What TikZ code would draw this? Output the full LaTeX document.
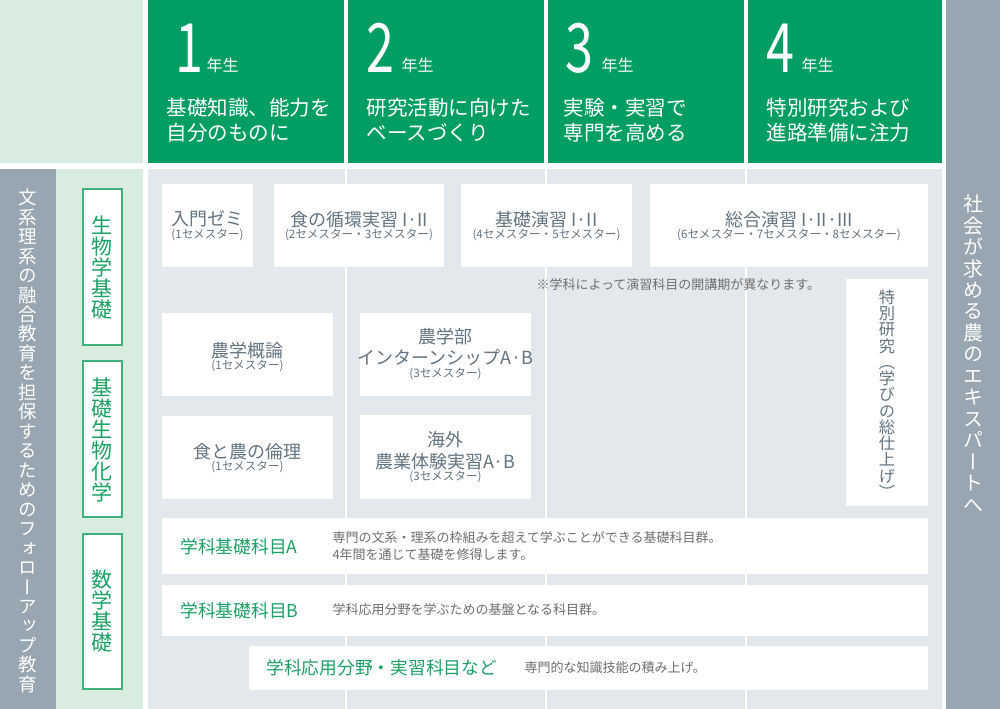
\documentclass[tikz,border=0pt]{standalone}
\usepackage{fontspec}
\usepackage{graphicx}
\setmainfont{Noto Sans CJK JP}
\newfontfamily\tatefont[RawFeature={+vert}]{Noto Sans CJK JP}

\definecolor{hdgreen}{RGB}{0,158,98}
\definecolor{palegreen}{RGB}{216,236,224}
\definecolor{slate}{RGB}{151,166,176}
\definecolor{mist}{RGB}{227,232,236}
\definecolor{boxtext}{RGB}{100,116,128}
\definecolor{leafgreen}{RGB}{28,160,100}
\definecolor{rimgreen}{RGB}{62,178,122}
\definecolor{notetext}{RGB}{110,110,110}

% stack characters top to bottom
\ExplSyntaxOn
\NewDocumentCommand \tate { m }
  {
    \vbox:n
      {
        \lineskiplimit = -\c_max_dim
        \tl_map_inline:nn {#1} { \hbox_to_wd:nn { 1em } { \hfil ##1 \hfil } }
      }
  }
\ExplSyntaxOff

\tikzset{every picture/.style={line width=0.75pt}}
\tikzset{
  digit/.style={text=white, font=\fontsize{51}{51}\selectfont, anchor=base west, inner sep=0},
  grade/.style={text=white, font=\fontsize{12}{12}\selectfont, anchor=west, inner sep=0},
  goal/.style={text=white, font=\fontsize{15.4}{19.1}\selectfont, anchor=west, align=left, inner sep=0},
  cname/.style={text=boxtext, font=\fontsize{13.5}{15.75}\selectfont, inner sep=0},
  csem/.style={text=boxtext, font=\fontsize{8.7}{10}\selectfont, inner sep=0},
  rowlabel/.style={text=leafgreen, font=\fontsize{13.3}{16}\selectfont, anchor=west, inner sep=0},
  desc/.style={text=notetext, font=\fontsize{9.75}{12.45}\selectfont, anchor=west, align=left, inner sep=0},
}

\begin{document}
\begin{tikzpicture}[x=0.75pt,y=0.75pt,yscale=-1,xscale=1]
        \useasboundingbox (0,0) rectangle (1000,709);
        \fill[white] (0,0) rectangle (1000,709);

        %Shape: Rectangle top left corner
        \fill[palegreen] (0,0) rectangle (143,163);
        %Shape: Rectangle headers
        \fill[hdgreen] (148,0) rectangle (344,163);
        \fill[hdgreen] (348,0) rectangle (544,163);
        \fill[hdgreen] (548,0) rectangle (744,163);
        \fill[hdgreen] (748,0) rectangle (942,163);
        %Shape: Rectangle right column
        \fill[slate] (946,0) rectangle (1000,709);
        %Shape: Rectangle left strips
        \fill[slate] (0,169) rectangle (56,709);
        \fill[palegreen] (56,169) rectangle (143,709);
        %Shape: Rectangle main area
        \fill[mist] (148,169) rectangle (942,709);
        \foreach \x in {346,546,746}
            \draw[white, line width=1.5pt] (\x,169) -- (\x,709);

        %Shape: Rectangle courses
        \fill[white] (162,184) rectangle (253,267);
        \fill[white] (274,184) rectangle (444,267);
        \fill[white] (461,184) rectangle (632,267);
        \fill[white] (650,184) rectangle (928,267);
        \fill[white] (162,313) rectangle (333,396);
        \fill[white] (162,416) rectangle (333,499);
        \fill[white] (360,313) rectangle (531,396);
        \fill[white] (360,415) rectangle (531,499);
        \fill[white] (846,279) rectangle (928,506);
        %Shape: Rectangle rows
        \fill[white] (162,518) rectangle (928,574);
        \fill[white] (162,585) rectangle (928,636);
        \fill[white] (249,646) rectangle (928,690);

        %Shape: Rectangle subject frames
        \draw[rimgreen, fill=white, line width=1.5pt] (82.7,189) rectangle (121.7,345);
        \draw[rimgreen, fill=white, line width=1.5pt] (82.7,361) rectangle (121.7,517);
        \draw[rimgreen, fill=white, line width=1.5pt] (82.7,534) rectangle (121.7,689);

        % Text Node headers
        \node[digit] (yrone) at (175,73) {\scalebox{0.74}[1]{1}};
        \node[grade] (grone) at (206,65.5) {年生};
        \node[goal] (goalone) at (166,120) {基礎知識、能力を\\自分のものに};
        \node[digit] (yrtwo) at (366,73) {\scalebox{0.74}[1]{2}};
        \node[grade] (grtwo) at (401,65.5) {年生};
        \node[goal] (goaltwo) at (366,120) {研究活動に向けた\\ベースづくり};
        \node[digit] (yrthree) at (565,73) {\scalebox{0.74}[1]{3}};
        \node[grade] (grthree) at (601,65.5) {年生};
        \node[goal] (goalthree) at (563,120) {実験・実習で\\専門を高める};
        \node[digit] (yrfour) at (766,73) {\scalebox{0.74}[1]{4}};
        \node[grade] (grfour) at (801,65.5) {年生};
        \node[goal] (goalfour) at (766,120) {特別研究および\\進路準備に注力};

        % Text Node vertical labels
        \node[text=white, inner sep=0, font=\tatefont\fontsize{13.9}{14.6}\selectfont] (followup) at (28,441)
            {\tate{文系理系の融合教育を担保するためのフォローアップ教育}};
        \node[text=white, inner sep=0, font=\tatefont\fontsize{15}{16.1}\selectfont] (expert) at (973,353.5)
            {\tate{社会が求める農のエキスパートへ}};
        \node[text=leafgreen, inner sep=0, font=\tatefont\fontsize{15.75}{15.75}\selectfont] (biology) at (102,267.5)
            {\tate{生物学基礎}};
        \node[text=leafgreen, inner sep=0, font=\tatefont\fontsize{15.75}{15.75}\selectfont] (biochem) at (102,440)
            {\tate{基礎生物化学}};
        \node[text=leafgreen, inner sep=0, font=\tatefont\fontsize{15.75}{15.75}\selectfont] (maths) at (102,611.5)
            {\tate{数学基礎}};

        % Text Node courses
        \node[cname] (seminar) at (207.5,219) {入門ゼミ};
        \node[csem] (seminarsem) at (207.5,235) {(1セメスター)};
        \node[cname] (cycle) at (359,219.5) {食の循環実習 I·II};
        \node[csem] (cyclesem) at (359,235) {(2セメスター・3セメスター)};
        \node[cname] (basics) at (546.5,219.5) {基礎演習 I·II};
        \node[csem] (basicssem) at (546.5,235) {(4セメスター・5セメスター)};
        \node[cname] (general) at (789,219.5) {総合演習 I·II·III};
        \node[csem] (generalsem) at (789,235) {(6セメスター・7セメスター・8セメスター)};
        \node[text=notetext, font=\fontsize{9.75}{12}\selectfont, anchor=west, inner sep=0] (note) at (536,285)
            {※学科によって演習科目の開講期が異なります。};
        \node[cname] (intro) at (247.5,350.5) {農学概論};
        \node[csem] (introsem) at (247.5,366) {(1セメスター)};
        \node[cname] (ethics) at (247.5,451.5) {食と農の倫理};
        \node[csem] (ethicssem) at (247.5,466.5) {(1セメスター)};
        \node[cname] (interntop) at (445.5,337) {農学部};
        \node[cname] (intern) at (445.5,358) {インターンシップA·B};
        \node[csem] (internsem) at (445.5,374) {(3セメスター)};
        \node[cname] (abroadtop) at (445.5,440) {海外};
        \node[cname] (abroad) at (445.5,462) {農業体験実習A·B};
        \node[csem] (abroadsem) at (445.5,477) {(3セメスター)};
        \node[text=boxtext, inner sep=0, font=\tatefont\fontsize{12.2}{12.2}\selectfont] (thesis) at (887,394)
            {\tate{特別研究（学びの総仕上げ）}};

        % Text Node rows
        \node[rowlabel] (rowa) at (180,547) {学科基礎科目A};
        \node[desc] (rowadesc) at (332,546) {専門の文系・理系の枠組みを超えて学ぶことができる基礎科目群。\\4年間を通じて基礎を修得します。};
        \node[rowlabel] (rowb) at (180,611) {学科基礎科目B};
        \node[desc] (rowbdesc) at (332,610) {学科応用分野を学ぶための基盤となる科目群。};
        \node[rowlabel] (rowc) at (266,668) {学科応用分野・実習科目など};
        \node[desc] (rowcdesc) at (524,668) {専門的な知識技能の積み上げ。};

\end{tikzpicture}
\end{document}
